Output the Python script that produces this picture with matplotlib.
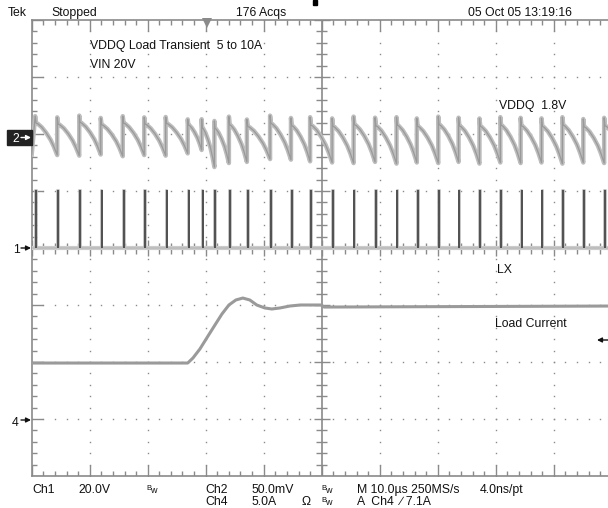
import matplotlib.pyplot as plt
from matplotlib.patches import Rectangle
import numpy as np

plt.rcParams['font.family'] = ['Liberation Sans', 'DejaVu Sans']

# screen: 10 div x 8 div; x in us (10 us/div), y in divisions from centre
# LX (ch1) switching edges, us
lx_t = [0.6, 4.4, 8.2, 11.9, 15.7, 19.4, 23.1, 26.9, 29.3, 31.5, 34.0, 37.1,
        41.1, 44.7, 48.0, 51.8, 55.5, 59.2, 62.9, 66.4, 70.1, 73.6, 77.2,
        80.8, 84.3, 87.9, 91.5, 95.1, 98.7]
lx_high = 1.02      # div (20 V/div)
lx_on = 0.3         # us

# VDDQ (ch2) ripple, divisions: peak after each edge, level just before next edge
vddq_start = 1.64
vddq_peak = [2.24, 2.22, 2.25, 2.21, 2.24, 2.22, 2.23, 2.20, 2.17, 2.15, 2.22,
             2.18, 2.24, 2.20, 2.21, 2.19, 2.22, 2.20, 2.21, 2.19, 2.22, 2.20,
             2.19, 2.21, 2.20, 2.19, 2.21, 2.18, 2.20]
vddq_trough = [1.63, 1.62, 1.64, 1.61, 1.63, 1.62, 1.66, 1.72, 1.42, 1.49,
               1.51, 1.56, 1.55, 1.52, 1.50, 1.49, 1.51, 1.48, 1.50, 1.49,
               1.51, 1.48, 1.50, 1.49, 1.50, 1.48, 1.50, 1.49, 1.50]
# one ripple cycle (phase, fraction of drop)
cyc_phase = [0.0, 0.04, 0.12, 0.30, 0.50, 0.70, 0.85, 1.0]
cyc_drop = [-0.12, 0.08, 0.10, 0.20, 0.36, 0.56, 0.76, 1.0]

# load current (ch4), A, 5 A/div, ground at -3 div
load_t = [0, 26.9, 27.8, 29.0, 30.4, 31.6, 32.8, 34.0, 35.2, 36.4, 37.6, 38.8,
          40.2, 41.4, 42.8, 44.5, 46.3, 49.9, 50.4, 100]
load_a = [4.91, 4.91, 5.35, 6.14, 7.28, 8.25, 9.21, 10.0, 10.44, 10.61, 10.44,
          10.0, 9.74, 9.65, 9.74, 9.91, 10.0, 10.0, 9.82, 9.91]

PX_X = 5.8   # px per us
PX_Y = 57.0  # px per div
W, H = 608, 508


def fx(px):
    return px / W


def fy(py):
    return 1 - py / H


fig = plt.figure(figsize=(6.08, 5.08), dpi=100)
ax = fig.add_axes([fx(31.7), fy(476), 580 / W, 456 / H])
ax.set_xlim(0, 100)
ax.set_ylim(-4, 4)
ax.axis('off')

gc = '#8a8a8a'
# dotted graticule
minor_x = np.arange(0, 100.01, 2)
minor_y = np.arange(-4, 4.01, 0.2)
for gy in [-3, -2, -1, 1, 2, 3]:
    ax.plot(minor_x, [gy] * len(minor_x), ls='none', marker='s', ms=1.0,
            mew=0, color=gc)
for gx in [10, 20, 30, 40, 60, 70, 80, 90]:
    ax.plot([gx] * len(minor_y), minor_y, ls='none', marker='s', ms=1.0,
            mew=0, color=gc)

# border
ax.plot([0, 0], [-4, 4], color=gc, lw=1.2, clip_on=False)
ax.plot([0, 100], [4, 4], color=gc, lw=1.2, clip_on=False)
ax.plot([0, 100], [-4, -4], color=gc, lw=1.2, clip_on=False)
tx = 1 / PX_X
ty = 1 / PX_Y
for x in minor_x:
    ln = 11 if abs(x % 10) < 0.01 else 5
    ax.vlines(x, 4 - ln * ty, 4, color=gc, lw=1)
    ax.vlines(x, -4, -4 + ln * ty, color=gc, lw=1)
for y in minor_y:
    ln = 11 if abs(y - round(y)) < 0.01 else 5
    ax.hlines(y, 0, ln * tx, color=gc, lw=1)

# centre cross
ax.plot([50, 50], [-4, 4], color=gc, lw=1.2)
ax.plot([0, 100], [0, 0], color=gc, lw=1.2)
for y in minor_y:
    ln = 8 if abs(y - round(y)) < 0.01 else 5.5
    ax.hlines(y, 50 - ln * tx, 50 + ln * tx, color=gc, lw=1)
for x in minor_x:
    ln = 8 if abs(x % 10) < 0.01 else 5.5
    ax.vlines(x, -ln * ty, ln * ty, color=gc, lw=1)

# VDDQ ripple
vx, vy = [0.0], [vddq_start]
ends = lx_t[1:] + [lx_t[-1] + 3.6]
for t0, t1, pk, tr in zip(lx_t, ends, vddq_peak, vddq_trough):
    for ph, dr in zip(cyc_phase, cyc_drop):
        vx.append(t0 + ph * (t1 - t0))
        vy.append(pk - dr * (pk - tr))
ax.plot(vx, vy, color='#bdbdbd', lw=3.2, solid_joinstyle='round')
ax.plot(vx, vy, color='#999999', lw=0.9)

# LX
ax.plot([0, 100], [0, 0], color='#cccccc', lw=3)
lxx, lxy = [0.0], [0.0]
for t in lx_t:
    lxx += [t, t, t + lx_on, t + lx_on]
    lxy += [0, lx_high, lx_high, 0]
lxx.append(100)
lxy.append(0)
ax.plot(lxx, lxy, color='#bcbcbc', lw=1.2)
ax.vlines(np.array(lx_t) + lx_on / 2, 0, lx_high, color='#505050', lw=1.4)

# load current
load_div = np.array(load_a) / 5.0 - 3
ax.plot(load_t, load_div, color='#9a9a9a', lw=2.2)

# trigger position marker
ax.plot([30.2], [4 - 3 * ty], marker='v', ms=7, color='#8a8a8a', mew=0,
        clip_on=False)
fig.add_artist(Rectangle((fx(313), fy(5)), 4 / W, 5 / H,
                         transform=fig.transFigure, color='k'))

tc = '#111111'
fs = 8.8


def label(x, yb, s, size=fs, **kw):
    fig.text(fx(x), fy(yb), s, fontsize=size, color=tc, va='baseline', **kw)


def arrow(x0, x1, y, color=tc):
    fig.add_artist(plt.Annotation(
        '', xy=(fx(x1), fy(y)), xytext=(fx(x0), fy(y)),
        xycoords='figure fraction', textcoords='figure fraction',
        arrowprops=dict(arrowstyle='-|>', color=color, lw=1.0,
                        mutation_scale=7, shrinkA=0, shrinkB=0)))


label(8, 16, 'Tek')
label(51, 16, 'Stopped')
label(236, 16, '176 Acqs')
label(468, 16, '05 Oct 05 13:19:16')
label(90, 49, 'VDDQ Load Transient  5 to 10A')
label(90, 68, 'VIN 20V')
label(499, 109, 'VDDQ  1.8V')
label(497, 273, 'LX')
label(495, 327, 'Load Current')

# channel markers
fig.add_artist(Rectangle((fx(7), fy(145)), 25 / W, 15 / H,
                         transform=fig.transFigure, color='#222222'))
fig.text(fx(12), fy(142), '2', fontsize=fs, color='white', va='baseline')
arrow(21, 31, 137.5, color='white')
label(13, 253, '1')
arrow(21, 31, 248)
label(12, 426, '4')
arrow(21, 31, 420)
arrow(609, 597, 340)

# bottom readout
label(32, 493, 'Ch1')
label(78, 493, '20.0V')
label(205, 493, 'Ch2')
label(251, 493, '50.0mV')
label(357, 493, 'M 10.0\u00b5s 250MS/s')
label(480, 493, '4.0ns/pt')
label(205, 505, 'Ch4')
label(251, 505, '5.0A')
label(302, 505, '\u03a9')
label(357, 505, 'A  Ch4  \u2215 7.1A')
for bx, by in [(146, 490), (321, 490), (321, 502)]:
    label(bx, by, 'B', size=5.5)
    label(bx + 4, by + 3, 'w', size=6.5)

fig.savefig('out.png', dpi=100, facecolor='white')
